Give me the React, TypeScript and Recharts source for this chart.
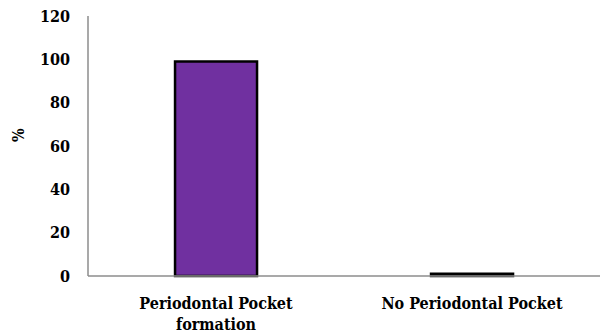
import { BarChart, Bar, XAxis, YAxis } from 'recharts';

const categories = ['Periodontal Pocket formation', 'No Periodontal Pocket'];
const percentages = [99, 1];
const yTicks = [0, 20, 40, 60, 80, 100, 120];

const data = categories.map((name, i) => ({ name, value: percentages[i] }));

const FONT = '"DejaVu Serif Condensed", "DejaVu Serif", serif';
const textStyle = { fontFamily: FONT, fontWeight: 'bold' as const, fontStretch: 'condensed', fontSize: 16, fill: '#000' };

// greedy word wrap by character count
function wrap(label: string, maxChars: number) {
  const lines: string[] = [];
  let cur = '';
  for (const w of label.split(' ')) {
    const next = cur ? cur + ' ' + w : w;
    if (next.length > maxChars && cur) {
      lines.push(cur);
      cur = w;
    } else {
      cur = next;
    }
  }
  if (cur) lines.push(cur);
  return lines;
}

function CategoryTick({ x, y, payload }: any) {
  const lines = wrap(String(payload.value), 21);
  return (
    <text x={x} y={y} textAnchor="middle" style={textStyle}>
      {lines.map((line, i) => (
        <tspan key={i} x={x} dy={i === 0 ? 17 : 21}>
          {line}
        </tspan>
      ))}
    </text>
  );
}

export default function App() {
  return (
    <div style={{ position: 'absolute', left: 0, top: 0, width: 600, height: 334, background: '#fff' }}>
      <BarChart
        width={600}
        height={334}
        data={data}
        margin={{ top: 16, right: 0, left: 28, bottom: 8 }}
        barCategoryGap="34%"
      >
        <XAxis
          dataKey="name"
          tick={<CategoryTick />}
          tickLine={false}
          axisLine={{ stroke: '#8c8c8c', strokeWidth: 1.5 }}
          height={50}
          interval={0}
          tickMargin={10}
        />
        <YAxis
          domain={[0, 120]}
          ticks={yTicks}
          width={60}
          tickLine={false}
          axisLine={{ stroke: '#8c8c8c', strokeWidth: 1.5 }}
          tickMargin={12}
          tick={textStyle}
          label={{
            value: '%',
            angle: -90,
            position: 'insideLeft',
            offset: -10,
            dy: -4,
            style: textStyle,
          }}
        />
        <Bar dataKey="value" fill="#7030a0" stroke="#000" strokeWidth={2.5} isAnimationActive={false} />
      </BarChart>
    </div>
  );
}
